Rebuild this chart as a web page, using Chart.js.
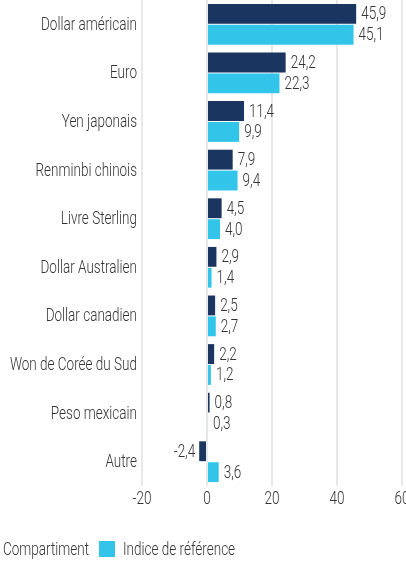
<!DOCTYPE html>
<html><head><meta charset="utf-8">
<script src="https://cdn.jsdelivr.net/npm/chart.js@4"></script>
<style>
html,body{margin:0;padding:0;background:#fff;overflow:hidden;width:406px;height:563px;}
#wrap{position:absolute;left:0;top:0;width:420px;height:563px;}
</style></head>
<body>
<div id="wrap"><canvas id="c"></canvas></div>
<script>
const categories = ["Dollar américain","Euro","Yen japonais","Renminbi chinois","Livre Sterling","Dollar Australien","Dollar canadien","Won de Corée du Sud","Peso mexicain","Autre"];
const compartiment = [45.9,24.2,11.4,7.9,4.5,2.9,2.5,2.2,0.8,-2.4];
const indice = [45.1,22.3,9.9,9.4,4.0,1.4,2.7,1.2,0.3,3.6];
const xTicks = [-20,0,20,40,60];
const seriesNames = ["Compartiment","Indice de référence"];

const FONT = '300 18px Roboto, "Liberation Sans", sans-serif';
const TXT = '#333333';
const DARK = '#1b3561', CYAN = '#33c4e9';

function condText(ctx, s, x, y, align){
  const sx = ctx._sx;
  const w = ctx.measureText(s).width * sx;
  let left = x;
  if (align === 'right') left = x - w;
  else if (align === 'center') left = x - w/2;
  ctx.save();
  ctx.translate(left, y);
  ctx.scale(sx, 1);
  ctx.textAlign = 'left';
  ctx.fillText(s, 0, 0);
  ctx.restore();
  return w;
}

const textPlugin = {
  id:'textPlugin',
  afterDraw(chart){
    const ctx = chart.ctx;
    ctx.save();
    ctx.font = FONT;
    ctx._sx = 96 / ctx.measureText("Dollar américain").width;
    ctx.fillStyle = TXT;
    ctx.textBaseline = 'middle';
    const xs = chart.scales.x, ys = chart.scales.y;
    categories.forEach((c,i)=>{
      condText(ctx, c, 137, ys.getPixelForValue(i) + 1, 'right');
    });
    xTicks.forEach(v=>{
      condText(ctx, String(v), xs.getPixelForValue(v), chart.chartArea.bottom + 13, 'center');
    });
    chart.data.datasets.forEach((ds,i)=>{
      chart.getDatasetMeta(i).data.forEach((bar,j)=>{
        const v = ds.data[j];
        const s = v.toFixed(1).replace('.',',');
        if (v >= 0) condText(ctx, s, bar.x + 5, bar.y + 1, 'left');
        else condText(ctx, s, bar.x - 4, bar.y + 1, 'right');
      });
    });
    let x = 3; const ly = 550;
    ctx.fillStyle = TXT;
    x += condText(ctx, seriesNames[0], x, ly, 'left');
    x += 10;
    ctx.fillStyle = CYAN;
    ctx.fillRect(x, 541, 16, 16);
    x += 16 + 8;
    ctx.fillStyle = TXT;
    condText(ctx, seriesNames[1], x, ly, 'left');
    ctx.restore();
  }
};

new Chart(document.getElementById('c'), {
  type:'bar',
  data:{
    labels:categories,
    datasets:[
      {label:seriesNames[0], data:compartiment, backgroundColor:DARK, categoryPercentage:0.86, barPercentage:0.95},
      {label:seriesNames[1], data:indice, backgroundColor:CYAN, categoryPercentage:0.86, barPercentage:0.95}
    ]
  },
  options:{
    indexAxis:'y',
    responsive:true,
    maintainAspectRatio:false,
    animation:false,
    layout:{padding:{left:0,top:0,right:18,bottom:77}},
    plugins:{legend:{display:false}, tooltip:{enabled:false}},
    scales:{
      x:{
        min:-20, max:60,
        afterBuildTicks(s){ s.ticks = xTicks.map(v=>({value:v})); },
        grid:{color:'#e8e8e8', lineWidth:2, drawTicks:false},
        border:{display:false},
        ticks:{display:false},
        afterFit(s){ s.height = 0; }
      },
      y:{
        grid:{display:false},
        border:{display:false},
        ticks:{display:false},
        afterFit(s){ s.width = 142; }
      }
    }
  },
  plugins:[textPlugin]
});
</script>
</body></html>
